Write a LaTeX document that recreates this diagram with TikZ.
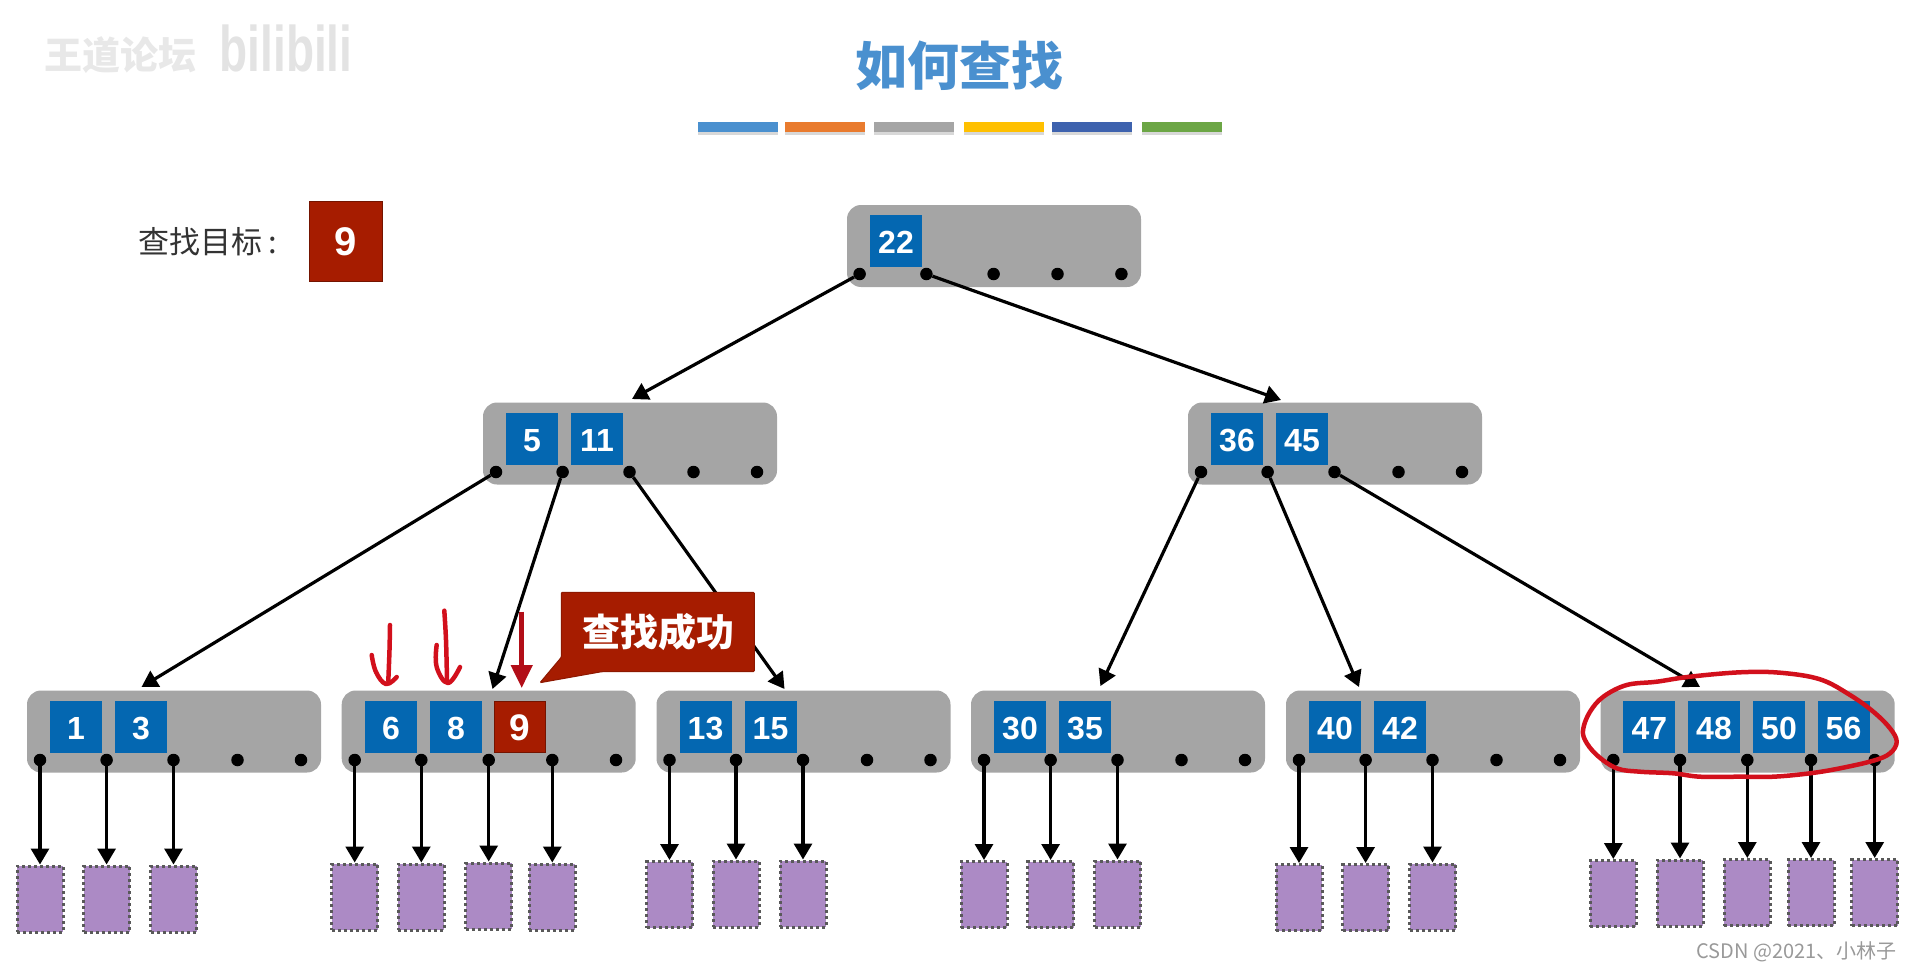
\documentclass[tikz,border=0pt]{standalone}
\usepackage{fontspec}
\setmainfont{Liberation Sans}
\newfontfamily\cjk{Noto Sans CJK SC}
\usetikzlibrary{arrows.meta,shadows}

\definecolor{keyblue}{HTML}{0467B1}
\definecolor{boxgray}{HTML}{A5A5A5}
\definecolor{hitred}{HTML}{A61C00}
\definecolor{leafpurple}{HTML}{AC8AC5}
\definecolor{titleblue}{HTML}{4A90CF}
\definecolor{penred}{HTML}{D2101C}
\definecolor{barorange}{HTML}{E97B2E}
\definecolor{barblue}{HTML}{3E62AE}
\definecolor{bargold}{HTML}{FFC000}
\definecolor{bargreen}{HTML}{6CA645}

\tikzset{
  treebox/.style={fill=boxgray,rounded corners=14pt,minimum width=294pt,minimum height=82pt,inner sep=0pt},
  keybox/.style={fill=keyblue,text=white,minimum size=52pt,inner sep=0pt,text height=25pt,text depth=0pt,font=\bfseries\fontsize{32pt}{34pt}\selectfont},
  hitbox/.style={fill=hitred,draw=hitred!70!black,line width=1pt,text=white,minimum size=51pt,inner sep=0pt,text height=27pt,text depth=0pt,font=\bfseries\fontsize{37pt}{38pt}\selectfont},
  ptr/.style={circle,fill=black,minimum size=12.5pt,inner sep=0pt},
  leaf/.style={fill=leafpurple,draw=black!65,line width=3pt,dash pattern=on 3pt off 3pt,minimum width=46pt,minimum height=66pt,inner sep=0pt},
  link/.style={line width=3.2pt,-{Triangle[length=16pt,width=18pt]}},
  bar/.style={minimum width=80pt,minimum height=10pt,inner sep=0pt,drop shadow={shadow xshift=0pt,shadow yshift=-3pt,fill=black!30}},
  pen/.style={draw=penred,line width=4.5pt,line cap=round,line join=round},
}

\begin{document}
\begin{tikzpicture}[x=1pt,y=-1pt]
\useasboundingbox (0,0) rectangle (1913,971);

% Watermark
\node[text=black!9,font=\cjk\bfseries\fontsize{38pt}{40pt}\selectfont] (wm) at (120,55) {王道论坛};
\node[text=black!11,font=\bfseries\fontsize{46pt}{50pt}\selectfont] (bili) at (286,48) {\scalebox{1}[1.4]{bilibili}};

% Title and colour bars
\node[text=titleblue,font=\cjk\bfseries\fontsize{52pt}{56pt}\selectfont] (title) at (959,66) {如何查找};
\node[bar,fill=titleblue] (bar1) at (737.5,127.5) {};
\node[bar,fill=barorange] (bar2) at (824.5,127.5) {};
\node[bar,fill=boxgray] (bar3) at (914,127.5) {};
\node[bar,fill=bargold] (bar4) at (1003.5,127.5) {};
\node[bar,fill=barblue] (bar5) at (1091.5,127.5) {};
\node[bar,fill=bargreen] (bar6) at (1182,127.5) {};

% Search target
\node[anchor=west,text=black!80,font=\cjk\fontsize{31pt}{34pt}\selectfont] (goal) at (135,242) {查找目标\kern6pt:};
\node[fill=hitred,draw=hitred!70!black,line width=1pt,minimum width=73pt,minimum height=80pt,inner sep=0pt,text=white,font=\bfseries\fontsize{40pt}{42pt}\selectfont] (goalkey) at (345.5,241.5) {9};

% Root
\node[treebox] (root) at (994,246) {};
\node[keybox] (k22) at (896,241) {22};
\node[ptr] (r1) at (859.6,274) {};
\node[ptr] (r2) at (926.4,274) {};
\node[ptr] (r3) at (993.6,274) {};
\node[ptr] (r4) at (1057.5,274) {};
\node[ptr] (r5) at (1121.4,274) {};

% Second level
\node[treebox] (left) at (630,443.5) {};
\node[keybox] (k5) at (532,438.5) {5};
\node[keybox] (k11) at (597,438.5) {11};
\node[ptr] (l1) at (496,472) {};
\node[ptr] (l2) at (562.6,472) {};
\node[ptr] (l3) at (629.5,472) {};
\node[ptr] (l4) at (693.5,472) {};
\node[ptr] (l5) at (757,472) {};

\node[treebox] (right) at (1335,443.5) {};
\node[keybox] (k36) at (1237,438.5) {36};
\node[keybox] (k45) at (1302,438.5) {45};
\node[ptr] (m1) at (1201,472) {};
\node[ptr] (m2) at (1267.6,472) {};
\node[ptr] (m3) at (1334.5,472) {};
\node[ptr] (m4) at (1398.5,472) {};
\node[ptr] (m5) at (1462,472) {};

% Third level
\node[treebox] (boxa) at (174,731.5) {};
\node[keybox] (k1) at (76,726.5) {1};
\node[keybox] (k3) at (141,726.5) {3};
\node[ptr] (a1) at (40,760) {};
\node[ptr] (a2) at (106.6,760) {};
\node[ptr] (a3) at (173.5,760) {};
\node[ptr] (a4) at (237.5,760) {};
\node[ptr] (a5) at (301,760) {};

\node[treebox] (boxb) at (488.7,731.5) {};
\node[keybox] (k6) at (391,726.5) {6};
\node[keybox] (k8) at (456,726.5) {8};
\node[hitbox] (k9) at (520,726.5) {9};
\node[ptr] (b1) at (354.7,760) {};
\node[ptr] (b2) at (421.3,760) {};
\node[ptr] (b3) at (488.7,760) {};
\node[ptr] (b4) at (552.3,760) {};
\node[ptr] (b5) at (616,760) {};

\node[treebox] (boxc) at (803.5,731.5) {};
\node[keybox] (k13) at (705.5,726.5) {13};
\node[keybox] (k15) at (770.5,726.5) {15};
\node[ptr] (c1) at (669.5,760) {};
\node[ptr] (c2) at (736,760) {};
\node[ptr] (c3) at (803,760) {};
\node[ptr] (c4) at (867,760) {};
\node[ptr] (c5) at (930.5,760) {};

\node[treebox] (boxd) at (1118,731.5) {};
\node[keybox] (k30) at (1020,726.5) {30};
\node[keybox] (k35) at (1085,726.5) {35};
\node[ptr] (d1) at (984,760) {};
\node[ptr] (d2) at (1050.6,760) {};
\node[ptr] (d3) at (1117.5,760) {};
\node[ptr] (d4) at (1181.5,760) {};
\node[ptr] (d5) at (1245,760) {};

\node[treebox] (boxe) at (1433,731.5) {};
\node[keybox] (k40) at (1335,726.5) {40};
\node[keybox] (k42) at (1400,726.5) {42};
\node[ptr] (e1) at (1299,760) {};
\node[ptr] (e2) at (1365.6,760) {};
\node[ptr] (e3) at (1432.5,760) {};
\node[ptr] (e4) at (1496.5,760) {};
\node[ptr] (e5) at (1560,760) {};

\node[treebox] (boxf) at (1747.7,731.5) {};
\node[keybox] (k47) at (1649.3,726.5) {47};
\node[keybox] (k48) at (1714,726.5) {48};
\node[keybox] (k50) at (1779,726.5) {50};
\node[keybox] (k56) at (1843.5,726.5) {56};
\node[ptr] (f1) at (1613.3,760) {};
\node[ptr] (f2) at (1680,760) {};
\node[ptr] (f3) at (1747.3,760) {};
\node[ptr] (f4) at (1811,760) {};
\node[ptr] (f5) at (1874.7,760) {};

% Arrow ends on the boxes
\coordinate (toleft) at (632,399);
\coordinate (toright) at (1281,400);
\coordinate (toa) at (141.5,687);
\coordinate (tob) at (492.5,689);
\coordinate (toc) at (784.5,689);
\coordinate (tod) at (1100.4,686);
\coordinate (toe) at (1359,687);
\coordinate (tof) at (1700,687);

\draw[link] (r1) -- (toleft);
\draw[link] (r2) -- (toright);
\draw[link] (l1) -- (toa);
\draw[link] (l2) -- (tob);
\draw[link] (l3) -- (toc);
\draw[link] (m1) -- (tod);
\draw[link] (m2) -- (toe);
\draw[link] (m3) -- (tof);

% Leaves
\node[leaf] (pa1) at (40,899) {};
\node[leaf] (pa2) at (106.6,899) {};
\node[leaf] (pa3) at (173.5,899) {};
\node[leaf] (pb1) at (354.7,897) {};
\node[leaf] (pb2) at (421.3,897) {};
\node[leaf] (pb3) at (488.7,896) {};
\node[leaf] (pb4) at (552.3,897) {};
\node[leaf] (pc1) at (669.5,894.5) {};
\node[leaf] (pc2) at (736,894) {};
\node[leaf] (pc3) at (803,894) {};
\node[leaf] (pd1) at (984,894.5) {};
\node[leaf] (pd2) at (1050.6,894.5) {};
\node[leaf] (pd3) at (1117.5,894) {};
\node[leaf] (pe1) at (1299,897.5) {};
\node[leaf] (pe2) at (1365.6,897.5) {};
\node[leaf] (pe3) at (1432.5,897) {};
\node[leaf] (pf1) at (1613.3,893.5) {};
\node[leaf] (pf2) at (1680,893) {};
\node[leaf] (pf3) at (1747.3,892.5) {};
\node[leaf] (pf4) at (1811,892.5) {};
\node[leaf] (pf5) at (1874.7,892.5) {};

\draw[link] (a1) -- (pa1);
\draw[link] (a2) -- (pa2);
\draw[link] (a3) -- (pa3);
\draw[link] (b1) -- (pb1);
\draw[link] (b2) -- (pb2);
\draw[link] (b3) -- (pb3);
\draw[link] (b4) -- (pb4);
\draw[link] (c1) -- (pc1);
\draw[link] (c2) -- (pc2);
\draw[link] (c3) -- (pc3);
\draw[link] (d1) -- (pd1);
\draw[link] (d2) -- (pd2);
\draw[link] (d3) -- (pd3);
\draw[link] (e1) -- (pe1);
\draw[link] (e2) -- (pe2);
\draw[link] (e3) -- (pe3);
\draw[link] (f1) -- (pf1);
\draw[link] (f2) -- (pf2);
\draw[link] (f3) -- (pf3);
\draw[link] (f4) -- (pf4);
\draw[link] (f5) -- (pf5);

% Callout
\fill[hitred,draw=hitred!85!black,line width=1pt,rounded corners=1pt] (561.3,592.3) -- (754.3,592.3) -- (754.3,671.7) -- (601.7,671.7) -- (540,682.7) -- (561.3,657.3) -- cycle;
\node[text=white,font=\cjk\bfseries\fontsize{38pt}{40pt}\selectfont] (found) at (658,632) {查找成功};

% Red arrow to the hit
\coordinate (hitstart) at (521.7,611.7);
\coordinate (hitend) at (521.7,688);
\draw[draw=penred!85!black,line width=4.5pt,-{Triangle[length=23pt,width=21pt]}] (hitstart) -- (hitend);

% Pen strokes
\draw[pen] plot[smooth,tension=.6] coordinates {(390,625) (389.5,650) (388.3,681)};
\draw[pen] plot[smooth,tension=.7] coordinates {(371.7,655) (376,672) (386,684) (396.7,677)};
\draw[pen] plot[smooth,tension=.6] coordinates {(444.3,610.7) (446,640) (447,680)};
\draw[pen] plot[smooth,tension=.7] coordinates {(436.7,645) (436.7,667) (448,683) (460,667)};
\draw[pen] plot[smooth cycle,tension=.6] coordinates {(1583.3,728.3) (1590,711.7) (1603.3,696.7) (1626.7,685) (1656.7,681.7) (1690,676.7) (1740,672.3) (1780,672.7) (1820,679.3) (1850,695) (1873.3,711.7) (1890,728.3) (1896.7,741.7) (1890,753.3) (1873.3,760.7) (1840,768.3) (1810,773.3) (1773.3,776.7) (1740,776.7) (1700,776.7) (1673.3,773.3) (1640,771.7) (1616.7,768.3) (1596.7,755) (1585,740)};

% Site mark
\node[anchor=east,text=black!40,font=\cjk\fontsize{20pt}{22pt}\selectfont] (mark) at (1900,952) {CSDN @2021、小林子};

\end{tikzpicture}
\end{document}
